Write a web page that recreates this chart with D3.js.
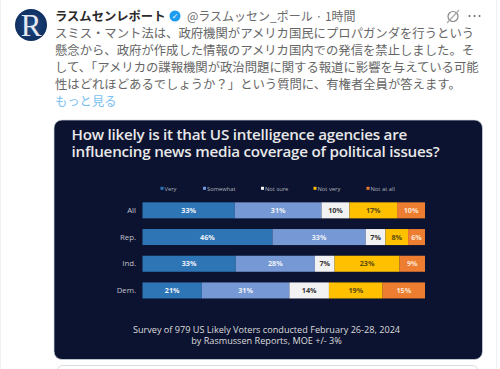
<!DOCTYPE html>
<html><head><meta charset="utf-8">
<script src="https://cdn.jsdelivr.net/npm/d3@7"></script>
<style>html,body{margin:0;padding:0;background:#fff}svg{display:block}
text{font-family:"Open Sans","DejaVu Sans",sans-serif}
.jp{font-family:"Noto Sans CJK JP",sans-serif}</style></head><body>
<div id="c"></div>
<script>
const categories=["All","Rep.","Ind.","Dem."];
const seriesNames=["Very","Somewhat","Not sure","Not very","Not at all"];
const seriesColors=["#2e75b6","#7698d4","#f2f2f2","#ffc000","#ed7d31"];
const labelColors=["#eef3fa","#eef3fa","#333","#5a4a10","#fde6d4"];
const very=[33,46,33,21];
const somewhat=[31,33,28,31];
const notSure=[10,7,7,14];
const notVery=[17,8,23,19];
const notAtAll=[10,6,9,15];
const seriesValues=[very,somewhat,notSure,notVery,notAtAll];
const tweetLines=["スミス・マント法は、政府機関がアメリカ国民にプロパガンダを行うという","懸念から、政府が作成した情報のアメリカ国内での発信を禁止しました。そ","して、「アメリカの諜報機関が政治問題に関する報道に影響を与えている可能","性はどれほどあるでしょうか？」という質問に、有権者全員が答えます。"];
const titleLines=["How likely is it that US intelligence agencies are","influencing news media coverage of political issues?"];
const footLines=["Survey of 979 US Likely Voters conducted February 26-28, 2024","by Rasmussen Reports, MOE +/- 3%"];

const svg=d3.select("#c").append("svg").attr("width",500).attr("height",369);
// page borders
[0.5,496.5].forEach(px=>svg.append("line").attr("x1",px).attr("x2",px).attr("y1",0).attr("y2",369).attr("stroke","#eff1f3"));
// tweet header
const grad=svg.append("defs").append("radialGradient").attr("id","av");
grad.append("stop").attr("offset","0%").attr("stop-color","#1d4a85");
grad.append("stop").attr("offset","100%").attr("stop-color","#0f2f60");
svg.append("circle").attr("cx",31).attr("cy",25).attr("r",16).attr("fill","url(#av)");
svg.append("text").attr("x",31).attr("y",36).attr("text-anchor","middle").attr("font-size",31).attr("fill","#e4e8ee").style("font-family","Liberation Serif").text("R");
svg.append("text").attr("class","jp").attr("x",55).attr("y",20.5).attr("font-size",12.3).attr("font-weight",700).attr("fill","#2a2a2a").text("ラスムセンレポート");
svg.append("circle").attr("cx",175).attr("cy",16).attr("r",5.5).attr("fill","#1d9bf0");
svg.append("text").attr("x",175).attr("y",19).attr("text-anchor","middle").attr("font-size",8).attr("fill","#fff").text("✓");
svg.append("text").attr("class","jp").attr("x",187).attr("y",20.5).attr("font-size",12).attr("fill","#6b6b6b").text("@ラスムッセン_ポール · 1時間");
svg.append("circle").attr("cx",453).attr("cy",16.5).attr("r",5).attr("fill","none").attr("stroke","#888").attr("stroke-width",1.2);
svg.append("line").attr("x1",447).attr("y1",23).attr("x2",459).attr("y2",10).attr("stroke","#aaa").attr("stroke-width",1.2);
[469.5,474.5,479.5].forEach(x=>svg.append("circle").attr("cx",x).attr("cy",16).attr("r",1).attr("fill","#666"));
svg.selectAll(".tw").data(tweetLines).join("text").attr("class","jp tw").attr("x",55).attr("y",(d,i)=>37.5+i*17.2).attr("font-size",12.35).attr("fill","#666").text(d=>d);
svg.append("text").attr("class","jp").attr("x",55).attr("y",105.5).attr("font-size",12.3).attr("fill","#7cc0f0").text("もっと見る");
// card
svg.append("rect").attr("x",54).attr("y",120).attr("width",428.5).attr("height",239.5).attr("rx",8).attr("fill","#0c1330").attr("stroke","#d5dde3").attr("stroke-width",0.7);
svg.selectAll(".ti").data(titleLines).join("text").attr("class","ti").attr("x",71.5).attr("y",(d,i)=>139.5+i*17.7).attr("font-size",15.2).attr("letter-spacing",-0.23).attr("font-weight",600).attr("fill","#e8e8e8").text(d=>d);
const x=d3.scaleLinear().range([142.5,425]);
const y=d3.scaleBand().domain(categories).range([197,303.8]).paddingInner(0.4).paddingOuter(0.2);
const stack=d3.stack().keys(seriesNames.map((_,i)=>i)).value((d,k)=>seriesValues[k][d]).offset(d3.stackOffsetExpand)(categories.map((_,i)=>i));
const g=svg.selectAll(".s").data(stack).join("g").attr("class","s");
g.selectAll("rect").data(d=>d).join("rect").attr("x",d=>x(d[0])).attr("width",d=>x(d[1])-x(d[0])).attr("y",d=>y(categories[d.data])).attr("height",y.bandwidth()).attr("fill",(d,i,n)=>seriesColors[stack.indexOf(d3.select(n[i].parentNode).datum())]);
stack.forEach((s,k)=>svg.append("g").selectAll("text").data(s).join("text")
 .attr("x",d=>(x(d[0])+x(d[1]))/2).attr("y",d=>y(categories[d.data])+y.bandwidth()/2+2.6)
 .attr("text-anchor","middle").attr("font-size",7.2).attr("font-weight",700).attr("fill",labelColors[k]).text(d=>seriesValues[k][d.data]+"%"));
svg.append("g").selectAll("text").data(categories).join("text").attr("x",136).attr("y",d=>y(d)+y.bandwidth()/2+2.6).attr("text-anchor","end").attr("font-size",7.8).attr("fill","#c0c2c8").text(d=>d);
const legendX=[160.5,203,261,313.5,366.5];
seriesNames.forEach((n,i)=>{
 svg.append("rect").attr("x",legendX[i]).attr("y",186.8).attr("width",3).attr("height",3).attr("fill",seriesColors[i]);
 svg.append("text").attr("x",legendX[i]+4).attr("y",190.5).attr("font-size",5.8).attr("fill","#aeb2bc").text(n);
});
svg.selectAll(".ft").data(footLines).join("text").attr("class","ft").attr("x",266.5).attr("y",(d,i)=>332.5+i*11.5).attr("text-anchor","middle").attr("font-size",9.15).attr("fill","#dcdcdc").text(d=>d);
svg.append("rect").attr("x",57).attr("y",365.5).attr("width",421).attr("height",12).attr("rx",6).attr("fill","#fff").attr("stroke","#d5dde3");
</script></body></html>
